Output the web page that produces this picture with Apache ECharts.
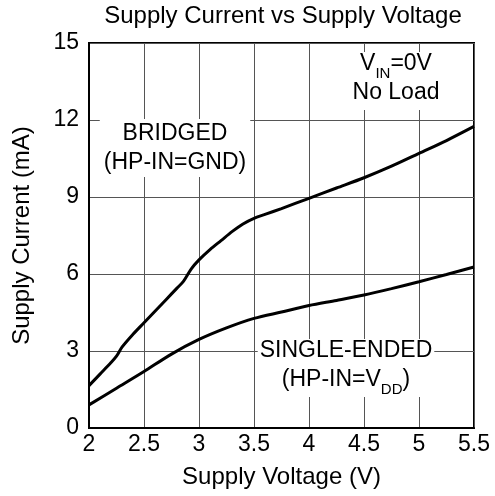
<!DOCTYPE html>
<html>
<head>
<meta charset="utf-8">
<script src="https://cdn.jsdelivr.net/npm/echarts@6/dist/echarts.min.js"></script>
<style>
  html, body { margin: 0; padding: 0; background: #fff; }
  #chart { width: 495px; height: 496px; }
</style>
</head>
<body>
<div id="chart"></div>
<script>
// Axis ticks
const xTicks = [2, 2.5, 3, 3.5, 4, 4.5, 5, 5.5];
const yTicks = [0, 3, 6, 9, 12, 15];

// Bridged mode (HP-IN = GND): supply voltage (V) and supply current (mA)
const bridgedV = [2.0, 2.1, 2.2, 2.25, 2.3, 2.4, 2.5, 2.6, 2.7, 2.8, 2.86, 2.93, 3.0, 3.1, 3.2, 3.3, 3.4, 3.5, 3.6, 3.75, 4.0, 4.25, 4.5, 4.75, 5.0, 5.25, 5.5];
const bridgedI = [1.65, 2.1, 2.55, 2.8, 3.15, 3.65, 4.1, 4.55, 5.0, 5.45, 5.72, 6.2, 6.55, 6.95, 7.3, 7.65, 7.95, 8.17, 8.32, 8.55, 8.95, 9.35, 9.75, 10.2, 10.7, 11.2, 11.75];

// Single-ended mode (HP-IN = VDD)
const singleV = [2.0, 2.25, 2.5, 2.75, 3.0, 3.25, 3.5, 3.75, 4.0, 4.25, 4.5, 4.75, 5.0, 5.25, 5.5];
const singleI = [0.9, 1.55, 2.2, 2.88, 3.45, 3.9, 4.27, 4.52, 4.77, 4.97, 5.18, 5.43, 5.7, 5.98, 6.27];

const FONT = 'Liberation Sans, Arial, Helvetica, sans-serif';
const pairs = (xs, ys) => xs.map((x, i) => [x, ys[i]]);

const chart = echarts.init(document.getElementById('chart'), null, { renderer: 'canvas' });

const axisCommon = {
  type: 'value',
  axisLine: { show: true, lineStyle: { color: '#000', width: 2 } },
  axisTick: { show: false },
  splitLine: { show: true, lineStyle: { color: '#555', width: 1 } },
  nameLocation: 'middle',
  nameTextStyle: { fontFamily: FONT, fontSize: 24, color: '#000' }
};

chart.setOption({
  animation: false,
  backgroundColor: '#fff',
  textStyle: { fontFamily: FONT },
  grid: {
    left: 89, top: 43, width: 385, height: 385,
    show: true, borderColor: '#000', borderWidth: 2, backgroundColor: 'transparent'
  },
  xAxis: Object.assign({}, axisCommon, {
    min: xTicks[0], max: xTicks[xTicks.length - 1], interval: xTicks[1] - xTicks[0],
    name: 'Supply Voltage (V)', nameGap: 37,
    axisLabel: { fontFamily: FONT, fontSize: 23, color: '#000', margin: 5 }
  }),
  yAxis: Object.assign({}, axisCommon, {
    min: yTicks[0], max: yTicks[yTicks.length - 1], interval: yTicks[1] - yTicks[0],
    name: 'Supply Current (mA)', nameGap: 55,
    axisLabel: { fontFamily: FONT, fontSize: 23, color: '#000', margin: 10 }
  }),
  series: [
    {
      type: 'line', data: pairs(bridgedV, bridgedI), smooth: 0.3,
      showSymbol: false, lineStyle: { color: '#000', width: 3 }, z: 3
    },
    {
      type: 'line', data: pairs(singleV, singleI), smooth: 0.3,
      showSymbol: false, lineStyle: { color: '#000', width: 3 }, z: 3
    }
  ],
  graphic: [
    {
      type: 'text', x: 283, y: 4, silent: true,
      style: { text: 'Supply Current vs Supply Voltage', font: '24px ' + FONT, fill: '#000', align: 'center' }
    },
    {
      type: 'text', x: 175, y: 148, silent: true, z: 10,
      style: {
        text: 'BRIDGED\n(HP-IN=GND)', font: '23px ' + FONT, fill: '#000',
        align: 'center', verticalAlign: 'middle', lineHeight: 29,
        backgroundColor: '#fff', padding: [0, 4, 0, 4]
      }
    },
    {
      type: 'text', x: 396, y: 81, silent: true, z: 10,
      style: {
        text: '{v|V}{s|IN}{v|=0V}\n{v|No Load}', fill: '#000',
        align: 'center', verticalAlign: 'middle',
        backgroundColor: '#fff', padding: [0, 4, 0, 4],
        rich: {
          v: { font: '23px ' + FONT, lineHeight: 29, verticalAlign: 'top', fill: '#000' },
          s: { font: '15px ' + FONT, lineHeight: 20, verticalAlign: 'bottom', fill: '#000' }
        }
      }
    },
    {
      type: 'text', x: 346, y: 368, silent: true, z: 10,
      style: {
        text: '{v|SINGLE-ENDED}\n{v|(HP-IN=V}{s|DD}{v|)}', fill: '#000',
        align: 'center', verticalAlign: 'middle',
        backgroundColor: '#fff', padding: [0, 2, 0, 2],
        rich: {
          v: { font: '23px ' + FONT, lineHeight: 29, verticalAlign: 'top', fill: '#000' },
          s: { font: '15px ' + FONT, lineHeight: 20, verticalAlign: 'bottom', fill: '#000' }
        }
      }
    }
  ]
});
</script>
</body>
</html>
